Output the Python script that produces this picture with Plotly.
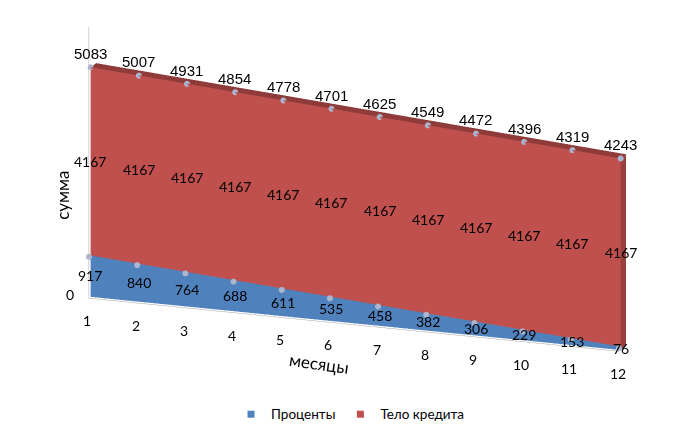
import math
import plotly.graph_objects as go

months = list(range(1, 13))
interest = [917, 840, 764, 688, 611, 535, 458, 382, 306, 229, 153, 76]
body = [4167] * 12
total = [5083, 5007, 4931, 4854, 4778, 4701, 4625, 4549, 4472, 4396, 4319, 4243]

blue = "#4F81BD"
red = "#C0504D"
flat = dict(ambient=1, diffuse=0, specular=0, roughness=1, fresnel=0)
depth = 1.0
front = -0.3


def quad_strip(pts_a, pts_b):
    # mesh between two polylines of equal length
    n = len(pts_a)
    pts = pts_a + pts_b
    ii, jj, kk = [], [], []
    for a in range(n - 1):
        ii += [a, a + 1]
        jj += [a + 1, n + a + 1]
        kk += [n + a, n + a]
    xs, ys, zs = zip(*pts)
    return dict(x=xs, y=ys, z=zs, i=ii, j=jj, k=kk)


def face(lower, upper, y=0):
    return quad_strip([(m, y, v) for m, v in zip(months, lower)],
                      [(m, y, v) for m, v in zip(months, upper)])


mesh_style = dict(flatshading=True, lighting=flat, hoverinfo="skip", showlegend=False)

fig = go.Figure()
fig.add_trace(go.Mesh3d(**face([0] * 12, interest), color=blue, **mesh_style))
fig.add_trace(go.Mesh3d(**face(interest, total), color=red, **mesh_style))

# top face of the red area
fig.add_trace(go.Mesh3d(**quad_strip([(m, 0, v) for m, v in zip(months, total)],
                                     [(m, depth, v) for m, v in zip(months, total)]),
                        color="#8E3B39", **mesh_style))
# right end face
fig.add_trace(go.Mesh3d(x=[12, 12, 12, 12], y=[0, depth, depth, 0],
                        z=[0, 0, total[-1], total[-1]], i=[0, 0], j=[1, 2], k=[2, 3],
                        color="#9A403E", **mesh_style))

n = len(months)
dot = dict(size=3.5, color="#A9B6CE")
fig.add_trace(go.Scatter3d(x=months, y=[0] * n, z=total, mode="markers", marker=dot,
                           hoverinfo="skip", showlegend=False))
fig.add_trace(go.Scatter3d(x=months, y=[front] * n, z=interest, mode="markers", marker=dot,
                           hoverinfo="skip", showlegend=False))

# legend entries
fig.add_trace(go.Scatter3d(x=[None], y=[None], z=[None], mode="markers", name="Проценты",
                           marker=dict(symbol="square", size=7, color=blue)))
fig.add_trace(go.Scatter3d(x=[None], y=[None], z=[None], mode="markers", name="Тело кредита",
                           marker=dict(symbol="square", size=7, color=red)))

# data labels, tick labels and axis titles as scene annotations (drawn on top)
big = dict(family="Liberation Sans", size=15, color="black")
small = dict(family="Lato", size=14, color="black")
notes = []
for m, v in zip(months, total):
    notes.append(dict(x=m, y=0, z=v, text=str(v), yanchor="bottom", yshift=3, font=big))
for m, a, b in zip(months, interest, body):
    notes.append(dict(x=m, y=0, z=a + b / 2, text=str(b), font=small))
for m, a in zip(months, interest):
    notes.append(dict(x=m, y=0, z=a / 2, text=str(a), font=small))
for m in months:
    notes.append(dict(x=m, y=0, z=0, text=str(m), yshift=-24, xshift=-3, font=small))
notes.append(dict(x=1, y=0, z=0, text="0", xshift=-20, yshift=2, font=small))
notes.append(dict(x=1, y=0, z=2240, text="сумма", textangle=-90, xshift=-28,
                  xanchor="center", yanchor="middle",
                  font=dict(family="Lato", size=17, color="black")))
notes.append(dict(x=5.75, y=0, z=0, text="месяцы", textangle=8, yshift=-44,
                  font=dict(family="Lato", size=17, color="black")))
for a in notes:
    a["showarrow"] = False

axis_common = dict(showgrid=False, showbackground=False, zeroline=False,
                   showspikes=False, linecolor="#A6A6A6", showline=True,
                   showticklabels=False, ticks="", title_text="")

az, el, r = math.radians(20), math.radians(16), 1.9
eye = dict(x=r * math.sin(az) * math.cos(el), y=-r * math.cos(az) * math.cos(el),
           z=r * math.sin(el))

fig.update_layout(
    width=685, height=435,
    margin=dict(l=0, r=0, t=0, b=0),
    paper_bgcolor="white",
    showlegend=True,
    legend=dict(orientation="h", x=0.5, xanchor="center", y=0.03, yanchor="bottom",
                font=dict(family="Lato", size=13.5, color="black")),
    scene=dict(
        domain=dict(x=[0.02, 1], y=[0.18, 1]),
        xaxis=dict(axis_common, range=[0.999, 12.001]),
        yaxis=dict(axis_common, range=[front, depth + 0.001], showline=False),
        zaxis=dict(axis_common, range=[-1, 6000]),
        aspectmode="manual",
        aspectratio=dict(x=3.16, y=0.117, z=1.58),
        camera=dict(eye=eye, center=dict(x=0, y=0, z=0), up=dict(x=0, y=0, z=1),
                    projection=dict(type="orthographic")),
        annotations=notes,
    ),
)

fig.write_html("out.html")
